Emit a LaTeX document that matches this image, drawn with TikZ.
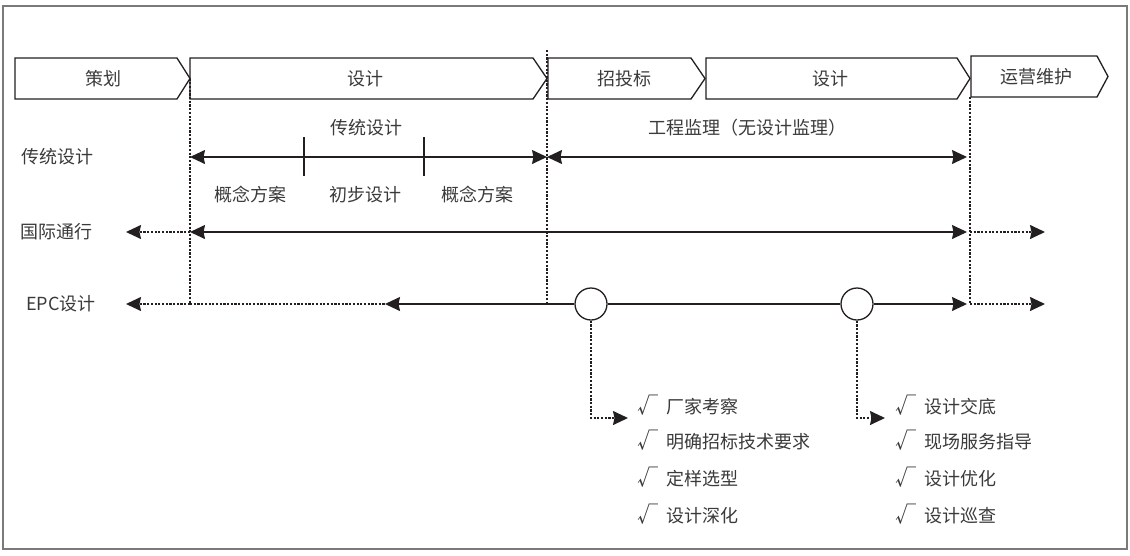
\documentclass[tikz,border=0pt]{standalone}
\usepackage{fontspec}
\setmainfont{Noto Sans CJK SC}
\usetikzlibrary{arrows.meta}
\definecolor{linecol}{HTML}{231F20}
\definecolor{textcol}{HTML}{3A3A3A}
\definecolor{framecol}{HTML}{7A7A7A}
\tikzset{
    >={Stealth[length=15pt,width=14pt,inset=1.5pt]}, % 箭头样式
    phase/.style={ % 阶段箭头框
        draw=linecol,
        line width=1.3pt,
        line join=miter
    },
    label_t/.style={ % 文字
        text=textcol,
        font=\fontsize{18}{20}\selectfont,
        inner sep=0pt
    },
    solidline/.style={ % 实线
        draw=linecol,
        line width=1.4pt
    },
    dotline/.style={ % 点线
        draw=linecol,
        line width=1.5pt,
        dash pattern=on 2.2pt off 1.5pt
    },
    milestone/.style={ % 圆圈节点
        draw=linecol,
        line width=1.3pt,
        shape=circle,
        fill=white,
        minimum size=32pt,
        inner sep=0pt
    },
    checkitem/.style={ % 列表项
        label_t,
        anchor=west
    }
}
\newcommand{\chk}[1]{\makebox[29pt][l]{\fontsize{21}{20}\selectfont √}#1}

\begin{document}
\begin{tikzpicture}[x=1pt,y=-1pt]

        \useasboundingbox (0,0) rectangle (1130,555);
        \draw[framecol, line width=1.2pt] (3,6) rectangle (1127,549);

        % 阶段
        \draw[phase] (15,58) -- (177,58) -- (190,78.5) -- (177,99) -- (15,99) -- cycle;
        \draw[phase] (190,58) -- (533,58) -- (547,78.5) -- (533,99) -- (190,99) -- cycle;
        \draw[phase] (548,58) -- (691,58) -- (705,78.5) -- (691,99) -- (548,99) -- cycle;
        \draw[phase] (706,58) -- (957,58) -- (970,78.5) -- (957,99) -- (706,99) -- cycle;
        \draw[phase] (971,56) -- (1097,56) -- (1108,76.5) -- (1097,97) -- (971,97) -- cycle;
        \node[label_t] (p1) at (103,78.5) {策划};
        \node[label_t] (p2) at (365,78.5) {设计};
        \node[label_t] (p3) at (624,78.5) {招投标};
        \node[label_t] (p4) at (830,78.5) {设计};
        \node[label_t] (p5) at (1036,76.5) {运营维护};

        % 分隔线
        \coordinate (s1t) at (190,78.5);
        \coordinate (s1b) at (190,304);
        \coordinate (s2t) at (547,50);
        \coordinate (s2b) at (547,304);
        \coordinate (s3t) at (970,97);
        \coordinate (s3b) at (970,304);
        \draw[dotline] (s1t) -- (s1b);
        \draw[dotline] (s2t) -- (s2b);
        \draw[dotline] (s3t) -- (s3b);

        % 左侧标签
        \node[label_t] (row1) at (57,157) {传统设计};
        \node[label_t] (row2) at (56,232) {国际通行};
        \node[label_t] (row3) at (61,304) {EPC设计};

        % 传统设计
        \coordinate (a1) at (190,157);
        \coordinate (a2) at (547,157);
        \coordinate (a3) at (967,157);
        \draw[solidline,<->] (a1) -- (a2);
        \draw[solidline,<->] (a2) -- (a3);
        \draw[solidline] (304,137) -- (304,176);
        \draw[solidline] (424,137) -- (424,176);
        \node[label_t] (t1) at (366,128) {传统设计};
        \node[label_t] (t2) at (747,128) {工程监理（无设计监理）};
        \node[label_t] (t3) at (250,195) {概念方案};
        \node[label_t] (t4) at (365,195) {初步设计};
        \node[label_t] (t5) at (477,195) {概念方案};

        % 国际通行
        \coordinate (b0) at (126,232);
        \coordinate (b1) at (190,232);
        \coordinate (b2) at (967,232);
        \coordinate (b3) at (970,232);
        \coordinate (b4) at (1045,232);
        \draw[dotline,->] (b1) -- (b0);
        \draw[solidline,<->] (b1) -- (b2);
        \draw[dotline,->] (b3) -- (b4);

        % EPC设计
        \node[milestone] (c1) at (591,304) {};
        \node[milestone] (c2) at (857,304) {};
        \coordinate (e0) at (126,304);
        \coordinate (e1) at (385,304);
        \coordinate (e2) at (967,304);
        \coordinate (e3) at (970,304);
        \coordinate (e4) at (1045,304);
        \draw[dotline,->] (s1b) -- (e0);
        \draw[dotline] (s1b) -- (e1);
        \draw[solidline,->] (c1) -- (e1);
        \draw[solidline] (c1) -- (c2);
        \draw[solidline,->] (c2) -- (e2);
        \draw[dotline,->] (e3) -- (e4);

        % 列表
        \coordinate (l0) at (628,418);
        \coordinate (r0) at (885,418);
        \draw[dotline,->] (c1.south) |- (l0);
        \draw[dotline,->] (c2.south) |- (r0);
        \node[checkitem] (l1) at (637,405) {\chk{厂家考察}};
        \node[checkitem] (l2) at (637,440) {\chk{明确招标技术要求}};
        \node[checkitem] (l3) at (637,477) {\chk{定样选型}};
        \node[checkitem] (l4) at (637,514) {\chk{设计深化}};
        \node[checkitem] (r1) at (895,405) {\chk{设计交底}};
        \node[checkitem] (r2) at (895,440) {\chk{现场服务指导}};
        \node[checkitem] (r3) at (895,477) {\chk{设计优化}};
        \node[checkitem] (r4) at (895,514) {\chk{设计巡查}};

\end{tikzpicture}
\end{document}
